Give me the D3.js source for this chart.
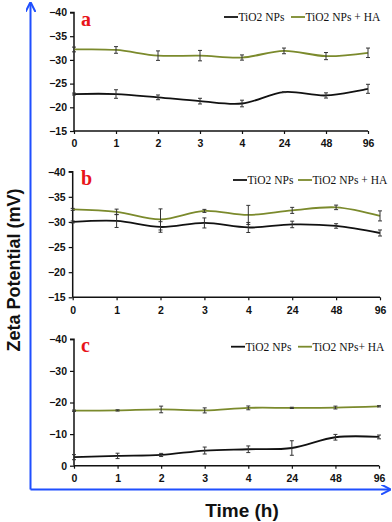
<!DOCTYPE html>
<html>
<head>
<meta charset="utf-8">
<script src="https://cdn.jsdelivr.net/npm/d3@7"></script>
<style>
  body { margin: 0; background: #fff; }
  svg { display: block; }
  .tick-lbl { font-family: "Liberation Sans", Arial, sans-serif; font-weight: bold; font-size: 10.5px; fill: #111; }
  .leg { font-family: "Liberation Serif", "Times New Roman", serif; font-size: 11.5px; fill: #111; }
</style>
</head>
<body>
<svg id="chart" width="392" height="522"></svg>
<script>
// time points (h)
var times = ["0", "1", "2", "3", "4", "24", "48", "96"];

// panel a
var aNP = [-22.8, -22.8, -22.1, -21.3, -20.8, -23.2, -22.5, -23.9];
var aNPerr = [0.2, 0.9, 0.5, 0.6, 0.7, 0.1, 0.55, 0.95];
var aHA = [-32.2, -32.1, -30.9, -30.9, -30.5, -31.9, -30.8, -31.5];
var aHAerr = [0.5, 0.7, 1.0, 1.1, 0.55, 0.6, 0.75, 1.0];
var aTicks = [-40, -35, -30, -25, -20, -15];

// panel b
var bNP = [-30.0, -30.2, -29.0, -29.8, -28.9, -29.5, -29.2, -27.8];
var bNPerr = [0.2, 1.3, 1.05, 1.0, 1.0, 0.65, 0.45, 0.6];
var bHA = [-32.5, -32.0, -30.5, -32.2, -31.4, -32.3, -32.9, -31.2];
var bHAerr = [0.2, 0.55, 2.1, 0.3, 1.9, 0.6, 0.45, 1.0];
var bTicks = [-40, -35, -30, -25, -20, -15];

// panel c
var cNP = [-2.7, -3.1, -3.4, -4.8, -5.2, -5.6, -9.0, -9.1];
var cNPerr = [0.8, 0.85, 0.5, 1.1, 1.05, 2.3, 0.9, 0.6];
var cHA = [-17.4, -17.5, -17.8, -17.5, -18.3, -18.3, -18.4, -18.8];
var cHAerr = [0.2, 0.2, 1.05, 0.8, 0.6, 0.2, 0.45, 0.2];
var cTicks = [-40, -30, -20, -10, 0];

var black = "#111", green = "#7b8a2c";

var panels = [
  {lbl: "a", np: aNP, npErr: aNPerr, ha: aHA, haErr: aHAerr, ticks: aTicks,
   top: 12.5, bottom: 131, left: 74, right: 368, legY: 17, legX1: 224, legX2: 291, haName: "TiO2 NPs + HA"},
  {lbl: "b", np: bNP, npErr: bNPerr, ha: bHA, haErr: bHAerr, ticks: bTicks,
   top: 171.7, bottom: 297.3, left: 72.7, right: 380, legY: 180, legX1: 233, legX2: 298, haName: "TiO2 NPs + HA"},
  {lbl: "c", np: cNP, npErr: cNPerr, ha: cHA, haErr: cHAerr, ticks: cTicks,
   top: 339.3, bottom: 465.7, left: 74, right: 379, legY: 346.7, legX1: 231, legX2: 298, haName: "TiO2 NPs+ HA"}
];

var svg = d3.select("#chart");

panels.forEach(function(p) {
  var x = d3.scalePoint().domain(times).range([p.left, p.right]);
  var y = d3.scaleLinear().domain([p.ticks[0], p.ticks[p.ticks.length - 1]]).range([p.top, p.bottom]);
  var g = svg.append("g");

  // y axis
  var ya = g.append("g").attr("transform", "translate(" + p.left + ",0)")
    .call(d3.axisLeft(y).tickValues(p.ticks).tickSize(4).tickPadding(3).tickFormat(d3.format("d")));
  ya.select(".domain").attr("stroke", "#111").attr("stroke-width", 1.5).attr("d", "M-4," + p.top + "H0V" + p.bottom);
  ya.selectAll(".tick line").attr("stroke", "#111").attr("stroke-width", 1.2);
  ya.selectAll(".tick text").attr("class", "tick-lbl").attr("font-family", null).attr("font-size", null);

  // x axis
  var xa = g.append("g").attr("transform", "translate(0," + p.bottom + ")")
    .call(d3.axisBottom(x).tickSize(3).tickPadding(6));
  xa.select(".domain").attr("stroke", "#111").attr("stroke-width", 1.5).attr("d", "M" + p.left + ",0H" + p.right);
  xa.selectAll(".tick line").attr("stroke", "#111").attr("stroke-width", 1.2);
  xa.selectAll(".tick text").attr("class", "tick-lbl").attr("font-family", null).attr("font-size", null);

  var line = d3.line()
    .x(function(d, i) { return x(times[i]); })
    .y(function(d) { return y(d); })
    .curve(d3.curveCatmullRom.alpha(0.5));

  [[p.np, p.npErr, black], [p.ha, p.haErr, green]].forEach(function(s) {
    g.append("path").datum(s[0]).attr("d", line)
      .attr("fill", "none").attr("stroke", s[2]).attr("stroke-width", 1.8);

    var eb = g.selectAll(null).data(s[0]).enter().append("g").attr("stroke", "#333").attr("stroke-width", 1);
    eb.append("line")
      .attr("x1", function(d, i) { return x(times[i]); })
      .attr("x2", function(d, i) { return x(times[i]); })
      .attr("y1", function(d, i) { return y(d - s[1][i]); })
      .attr("y2", function(d, i) { return y(d + s[1][i]); });
    [-1, 1].forEach(function(sg) {
      eb.append("line")
        .attr("x1", function(d, i) { return x(times[i]) - 2; })
        .attr("x2", function(d, i) { return x(times[i]) + 2; })
        .attr("y1", function(d, i) { return y(d + sg * s[1][i]); })
        .attr("y2", function(d, i) { return y(d + sg * s[1][i]); });
    });
  });

  // panel letter
  g.append("text").attr("x", 81).attr("y", p.top + 13)
    .attr("font-family", "Liberation Serif, Times New Roman, serif")
    .attr("font-weight", "bold").attr("font-size", 20).attr("fill", "#e8141a")
    .text(p.lbl);

  // legend
  g.append("line").attr("x1", p.legX1).attr("x2", p.legX1 + 14).attr("y1", p.legY).attr("y2", p.legY)
    .attr("stroke", black).attr("stroke-width", 1.8);
  g.append("text").attr("class", "leg").attr("x", p.legX1 + 14.5).attr("y", p.legY + 4).text("TiO2 NPs");
  g.append("line").attr("x1", p.legX2).attr("x2", p.legX2 + 14).attr("y1", p.legY).attr("y2", p.legY)
    .attr("stroke", green).attr("stroke-width", 1.8);
  g.append("text").attr("class", "leg").attr("x", p.legX2 + 14.5).attr("y", p.legY + 4).text(p.haName);
});

// blue frame arrows
var blue = "#1f4fff";
var defs = svg.append("defs");
defs.append("marker").attr("id", "arr").attr("viewBox", "0 0 10 10").attr("refX", 9).attr("refY", 5)
  .attr("markerWidth", 5).attr("markerHeight", 5).attr("orient", "auto")
  .append("path").attr("d", "M0,0 L10,5 L0,10").attr("fill", "none").attr("stroke", blue).attr("stroke-width", 2);
svg.append("path").attr("d", "M30.5,489.5V3").attr("stroke", blue).attr("stroke-width", 2)
  .attr("fill", "none").attr("marker-end", "url(#arr)");
svg.append("path").attr("d", "M30.5,489.5H390").attr("stroke", blue).attr("stroke-width", 2)
  .attr("fill", "none").attr("marker-end", "url(#arr)");

// axis titles
svg.append("text").attr("transform", "translate(20,270) rotate(-90)").attr("text-anchor", "middle")
  .attr("font-family", "Liberation Sans, Arial, sans-serif").attr("font-weight", "bold").attr("font-size", 18)
  .attr("fill", "#111").text("Zeta Potential (mV)");
svg.append("text").attr("x", 242).attr("y", 517).attr("text-anchor", "middle")
  .attr("font-family", "Liberation Sans, Arial, sans-serif").attr("font-weight", "bold").attr("font-size", 19)
  .attr("fill", "#111").text("Time (h)");
</script>
</body>
</html>
